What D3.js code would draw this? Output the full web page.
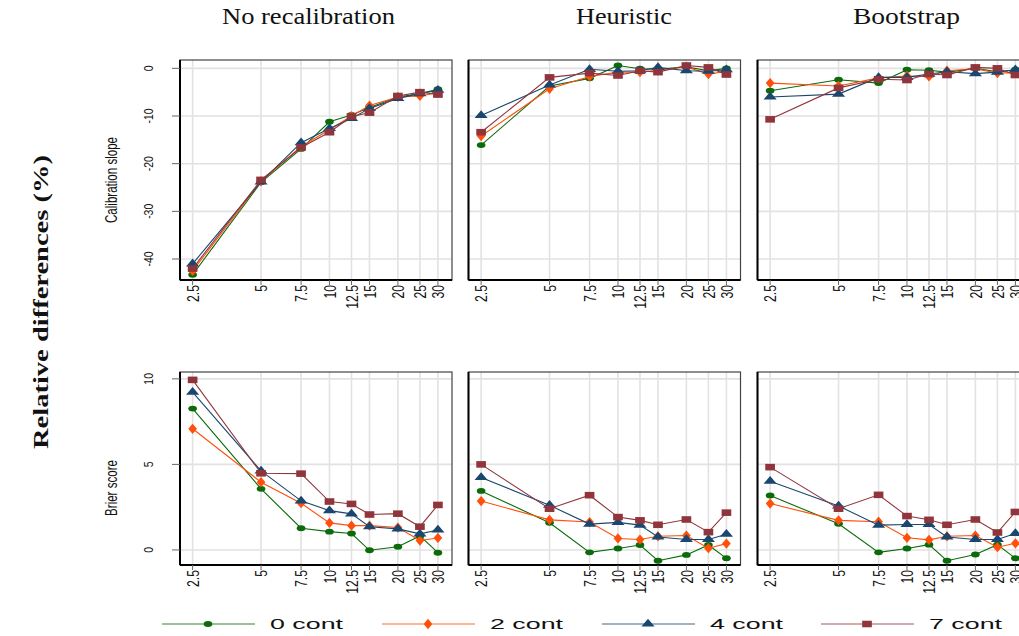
<!DOCTYPE html>
<html>
<head>
<meta charset="utf-8">
<script src="https://cdn.jsdelivr.net/npm/d3@7"></script>
<style>
  body { margin: 0; background: #fff; }
  svg { display: block; }
</style>
</head>
<body>
<div id="graf"></div>
<script>
// sample sizes (x axis) and labels
const nValues = [2.5, 5, 7.5, 10, 12.5, 15, 20, 25, 30]
const methods = ["No recalibration", "Heuristic", "Bootstrap"]
const seriesNames = ["0 cont", "2 cont", "4 cont", "7 cont"]
const slopeTicks = [0, -10, -20, -30, -40]
const brierTicks = [0, 5, 10]

// calibration slope, one row per series (0, 2, 4, 7 cont)
const slopeNoRecal = [
  [-43.3, -23.9, -16.9, -11.2, -9.8, -8.2, -6.0, -5.3, -4.4],
  [-42.5, -23.7, -16.4, -12.9, -10.0, -7.8, -6.0, -5.8, -5.1],
  [-41.0, -23.8, -15.6, -12.6, -10.5, -8.4, -6.3, -5.3, -4.6],
  [-42.0, -23.4, -16.6, -13.4, -10.1, -9.3, -5.8, -5.0, -5.5]
]
const slopeHeuristic = [
  [-16.1, -3.7, -2.1, 0.6, -0.1, -0.2, 0.3, -0.5, 0.0],
  [-14.2, -4.3, -1.7, -0.8, -0.8, -0.4, 0.3, -1.2, -0.6],
  [-9.9, -3.5, -0.2, -0.6, -0.5, 0.2, -0.5, -0.6, -0.3],
  [-13.4, -1.9, -1.0, -1.5, -0.5, -0.8, 0.6, 0.2, -1.3]
]
const slopeBootstrap = [
  [-4.7, -2.4, -3.1, -0.3, -0.4, -0.8, 0.0, -0.7, -0.3],
  [-3.1, -3.7, -2.0, -1.6, -1.7, -0.5, -0.1, -1.0, -0.9],
  [-6.0, -5.4, -1.9, -1.9, -1.2, -0.7, -1.1, -0.8, -0.3],
  [-10.7, -4.1, -2.3, -2.45, -1.2, -1.4, 0.2, 0.0, -1.4]
]

// brier score
const brierNoRecal = [
  [8.26, 3.57, 1.27, 1.07, 0.96, -0.02, 0.19, 0.82, -0.16],
  [7.08, 3.96, 2.73, 1.58, 1.42, 1.42, 1.31, 0.55, 0.70],
  [9.22, 4.62, 2.87, 2.30, 2.11, 1.36, 1.23, 0.94, 1.17],
  [9.94, 4.48, 4.46, 2.83, 2.69, 2.07, 2.12, 1.36, 2.63]
]
const brierHeuristic = [
  [3.45, 1.59, -0.14, 0.08, 0.29, -0.63, -0.29, 0.29, -0.49],
  [2.86, 1.76, 1.63, 0.67, 0.61, 0.80, 0.84, 0.10, 0.37],
  [4.24, 2.61, 1.51, 1.61, 1.45, 0.76, 0.61, 0.61, 0.92],
  [5.00, 2.41, 3.20, 1.92, 1.73, 1.47, 1.78, 1.04, 2.18]
]
const brierBootstrap = [
  [3.18, 1.53, -0.14, 0.08, 0.31, -0.63, -0.27, 0.31, -0.49],
  [2.71, 1.73, 1.65, 0.71, 0.59, 0.80, 0.84, 0.16, 0.39],
  [4.02, 2.57, 1.45, 1.49, 1.49, 0.76, 0.61, 0.61, 0.96],
  [4.84, 2.41, 3.22, 1.98, 1.76, 1.47, 1.78, 1.02, 2.22]
]

const colores = ["#0b6b0b", "#ff4f0a", "#1a476f", "#90353b"]
const simbolos = [d3.symbolCircle, d3.symbolDiamond, d3.symbolTriangle, d3.symbolSquare]
const tamanos = [38, 42, 48, 60]

const anchoTotal = 1019
const altoTotal = 636
const panelX = [180, 468.5, 757.5]
const panelW = 272
const filas = [
  { top: 60, h: 220, domain: [1.75, -44.4], ticks: slopeTicks, title: "Calibration slope", titleY: 180,
    data: [slopeNoRecal, slopeHeuristic, slopeBootstrap] },
  { top: 372, h: 193, domain: [10.4, -0.88], ticks: brierTicks, title: "Brier score", titleY: 488,
    data: [brierNoRecal, brierHeuristic, brierBootstrap] }
]
const tituloX = [308.5, 624, 906.5]
const tituloLargo = [173, 96, 107]
const sans = "'Liberation Sans', Arial, sans-serif"
const serif = "'Liberation Serif', 'DejaVu Serif', serif"

const svg = d3.select("#graf")
  .append("svg")
  .attr("width", anchoTotal)
  .attr("height", altoTotal)

const x = d3.scaleLog().domain([2.2, 34.6]).range([0, panelW])

// column titles
methods.forEach((m, i) => {
  svg.append("text")
    .attr("x", tituloX[i] - tituloLargo[i] / 2)
    .attr("y", 24)
    .attr("font-family", serif)
    .attr("font-size", 24)
    .attr("textLength", tituloLargo[i])
    .attr("lengthAdjust", "spacingAndGlyphs")
    .attr("fill", "#111")
    .text(m)
})

// big y label
svg.append("text")
  .attr("transform", "translate(48, 302) rotate(-90)")
  .attr("text-anchor", "middle")
  .attr("font-family", serif)
  .attr("font-weight", "bold")
  .attr("font-size", 21)
  .attr("textLength", 294)
  .attr("lengthAdjust", "spacingAndGlyphs")
  .attr("fill", "#111")
  .text("Relative differences (%)")

filas.forEach((fila, r) => {
  const y = d3.scaleLinear().domain(fila.domain).range([0, fila.h])

  // row title
  svg.append("text")
    .attr("transform", `translate(117, ${fila.titleY}) rotate(-90) scale(0.68,1)`)
    .attr("text-anchor", "middle")
    .attr("font-family", sans)
    .attr("font-size", 17)
    .attr("fill", "#111")
    .text(fila.title)

  methods.forEach((m, c) => {
    const g = svg.append("g")
      .attr("transform", `translate(${panelX[c]}, ${fila.top})`)

    // grid
    g.selectAll(".gx").data(nValues).enter().append("line")
      .attr("x1", (d) => x(d)).attr("x2", (d) => x(d))
      .attr("y1", 0).attr("y2", fila.h)
      .attr("stroke", "#e2e2e2").attr("stroke-width", 1.6)
    g.selectAll(".gy").data(fila.ticks).enter().append("line")
      .attr("x1", 0).attr("x2", panelW)
      .attr("y1", (d) => y(d)).attr("y2", (d) => y(d))
      .attr("stroke", "#e2e2e2").attr("stroke-width", 1.6)

    // frame
    g.append("rect")
      .attr("width", panelW).attr("height", fila.h)
      .attr("fill", "none").attr("stroke", "#444").attr("stroke-width", 1.2)
    g.append("line").attr("x1", 0).attr("x2", 0).attr("y1", 0).attr("y2", fila.h)
      .attr("stroke", "#000").attr("stroke-width", 2)
    g.append("line").attr("x1", 0).attr("x2", panelW).attr("y1", fila.h).attr("y2", fila.h)
      .attr("stroke", "#000").attr("stroke-width", 2)

    // x ticks and labels
    g.selectAll(".tx").data(nValues).enter().append("line")
      .attr("x1", (d) => x(d)).attr("x2", (d) => x(d))
      .attr("y1", fila.h).attr("y2", fila.h + 5)
      .attr("stroke", "#666").attr("stroke-width", 1)
    g.selectAll(".lx").data(nValues).enter().append("text")
      .attr("transform", (d) => `translate(${x(d)}, ${fila.h + 5}) rotate(-90) scale(0.72,1)`)
      .attr("dy", "0.36em")
      .attr("text-anchor", "end")
      .attr("font-family", sans)
      .attr("font-size", 17)
      .attr("fill", "#111")
      .text((d) => d)

    // y ticks only on first column
    if (c === 0) {
      g.selectAll(".ty").data(fila.ticks).enter().append("line")
        .attr("x1", -8).attr("x2", 0)
        .attr("y1", (d) => y(d)).attr("y2", (d) => y(d))
        .attr("stroke", "#666").attr("stroke-width", 1)
      g.selectAll(".ly").data(fila.ticks).enter().append("text")
        .attr("transform", (d) => `translate(-27, ${y(d)}) rotate(-90) scale(0.8,1)`)
        .attr("text-anchor", "middle")
        .attr("font-family", sans)
        .attr("font-size", 13)
        .attr("fill", "#111")
        .text((d) => d)
    }

    // series
    const datos = fila.data[c]
    datos.forEach((serie, s) => {
      const pts = nValues.map((n, i) => ({ n: n, v: serie[i] }))
      g.append("path")
        .datum(pts)
        .attr("fill", "none")
        .attr("stroke", colores[s])
        .attr("stroke-width", 1.1)
        .attr("d", d3.line().x((d) => x(d.n)).y((d) => y(d.v)))
      g.selectAll(".m" + s).data(pts).enter().append("path")
        .attr("transform", (d) => `translate(${x(d.n)}, ${y(d.v)}) scale(1.25,0.85)`)
        .attr("d", d3.symbol().type(simbolos[s]).size(tamanos[s]))
        .attr("fill", colores[s])
    })
  })
})

// legend
const legX = [162, 382, 602, 821]
seriesNames.forEach((nombre, s) => {
  const lg = svg.append("g").attr("transform", `translate(${legX[s]}, 624)`)
  lg.append("line")
    .attr("x1", 0).attr("x2", 93)
    .attr("stroke", colores[s]).attr("stroke-opacity", 0.55).attr("stroke-width", 1.6)
  lg.append("path")
    .attr("transform", "translate(46, 0) scale(1.25,0.85)")
    .attr("d", d3.symbol().type(simbolos[s]).size(tamanos[s]))
    .attr("fill", colores[s])
  lg.append("text")
    .attr("x", 108)
    .attr("y", 5)
    .attr("font-family", sans)
    .attr("font-size", 15)
    .attr("textLength", 73)
    .attr("lengthAdjust", "spacingAndGlyphs")
    .attr("fill", "#111")
    .text(nombre)
})
</script>
</body>
</html>
